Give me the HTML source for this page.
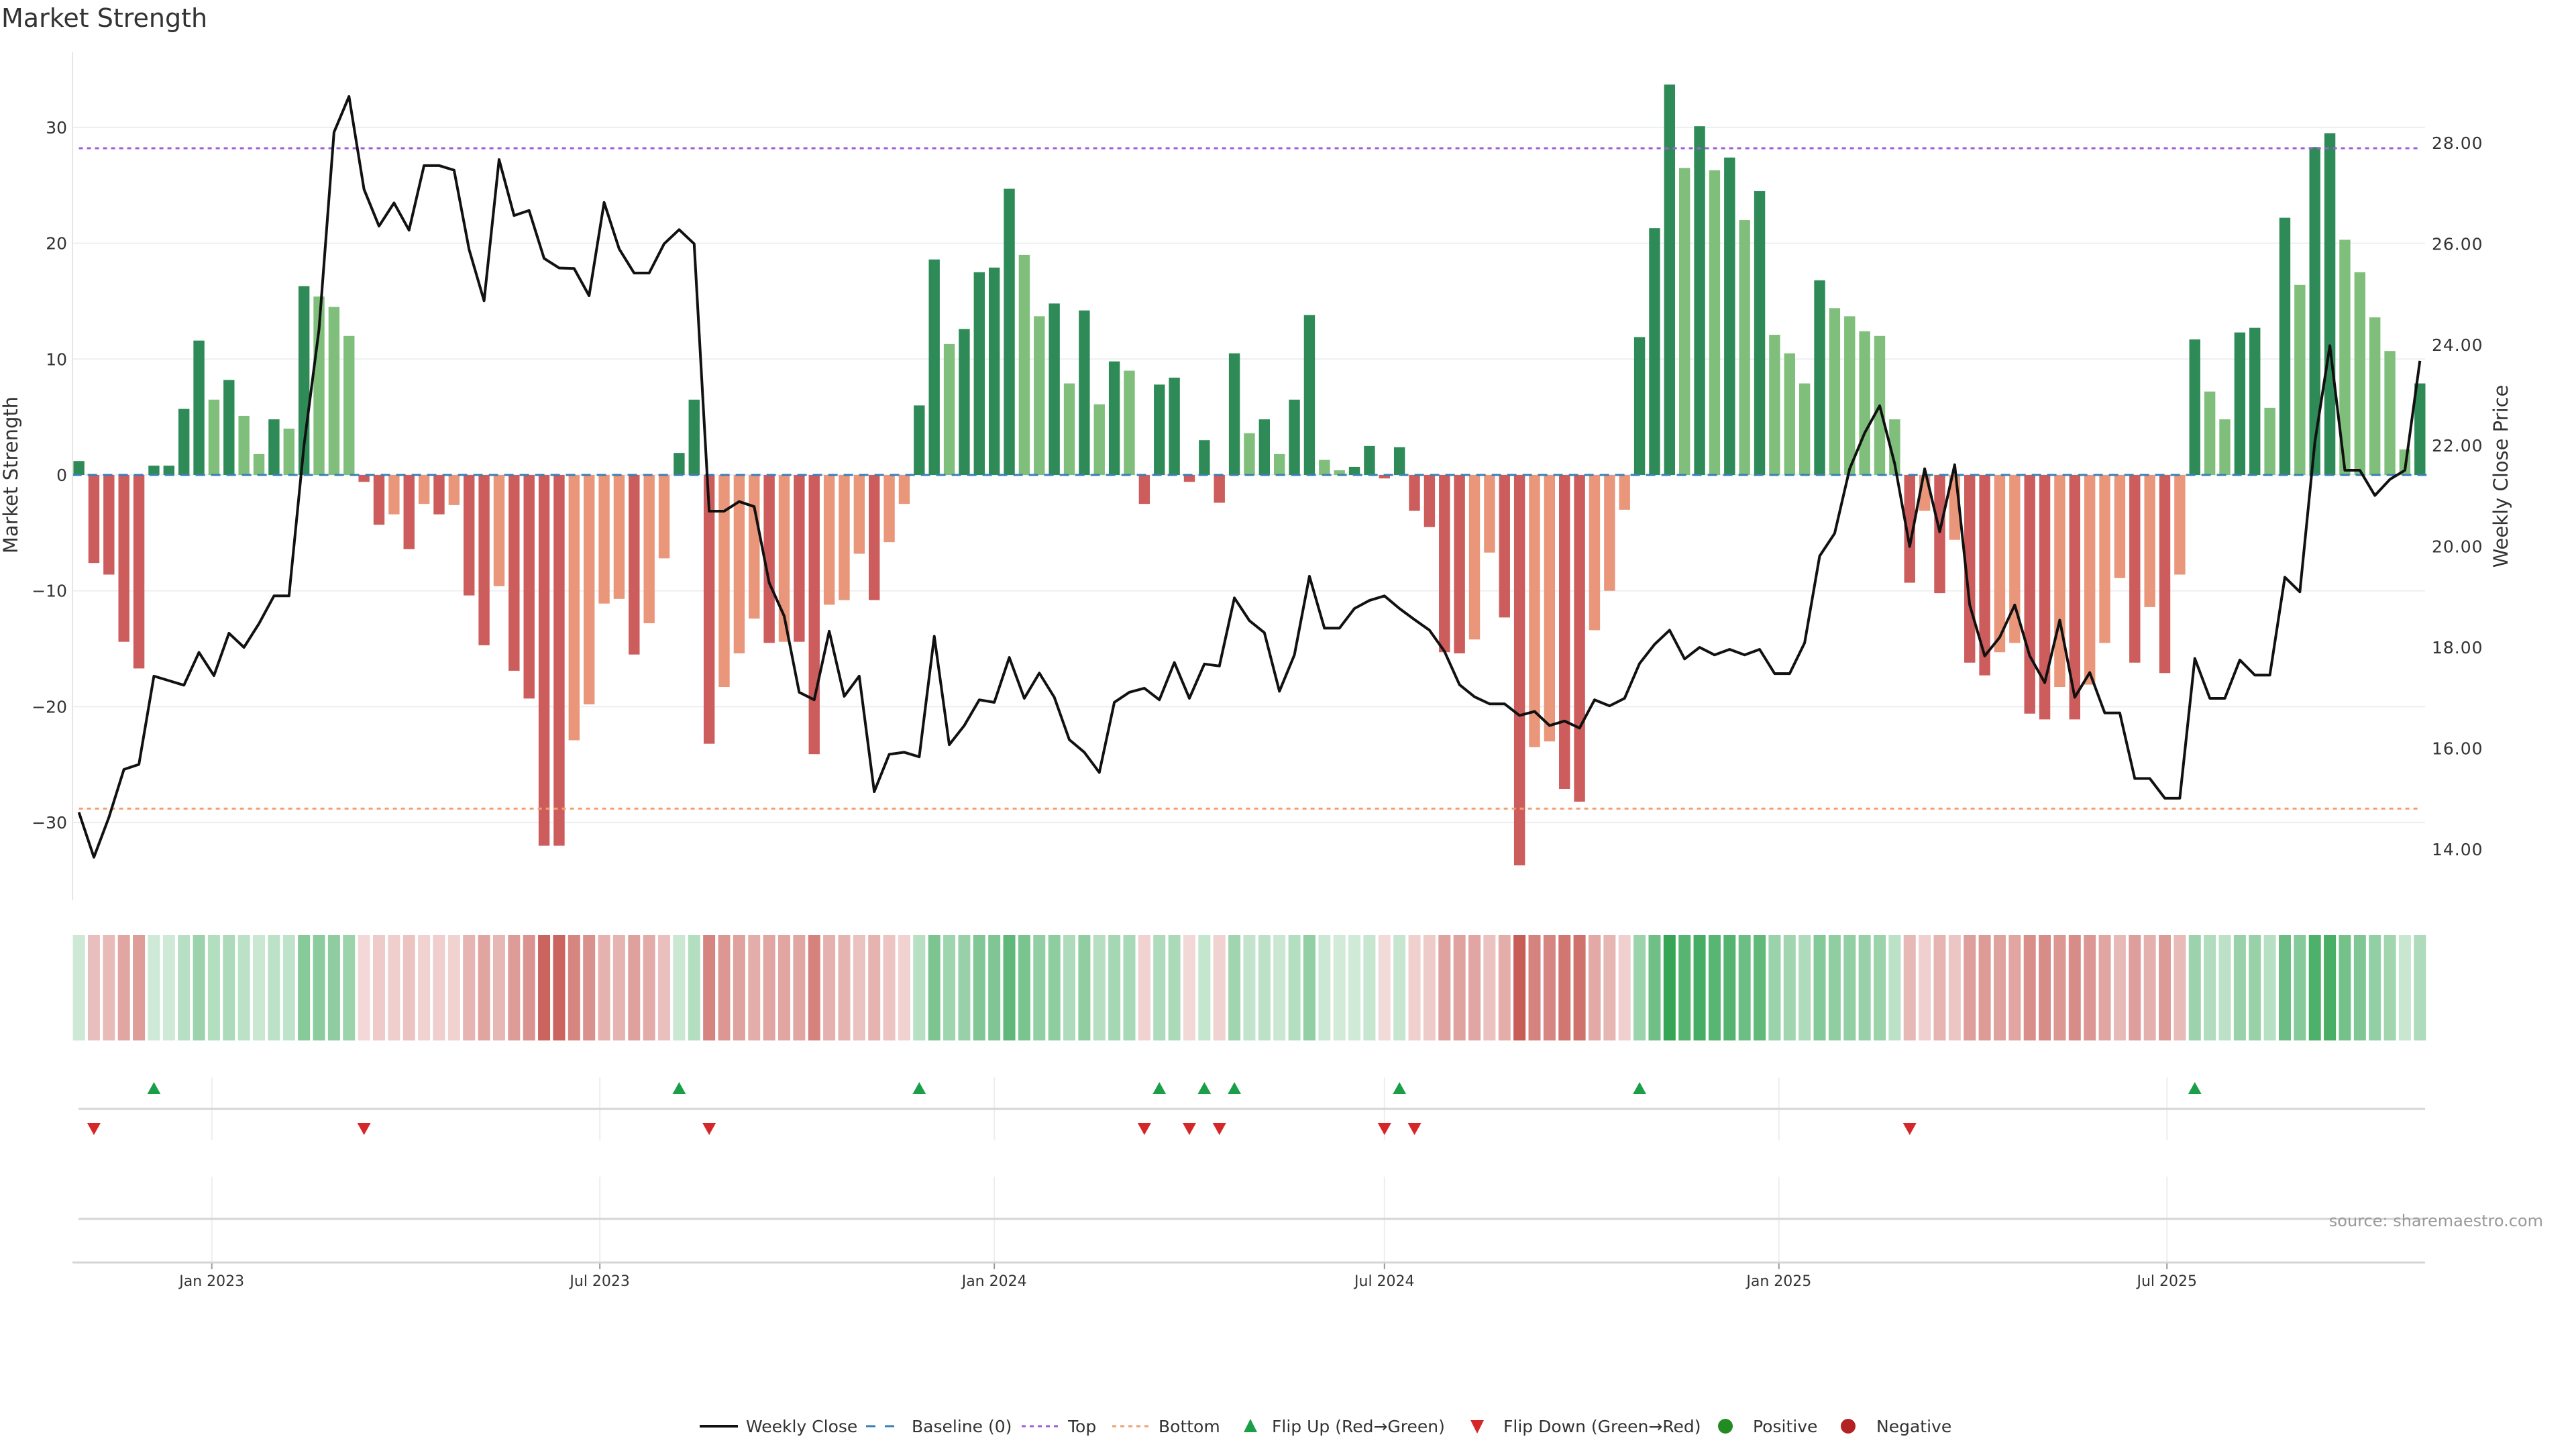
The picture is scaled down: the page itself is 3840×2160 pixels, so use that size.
<!DOCTYPE html>
<html><head><meta charset="utf-8"><title>Market Strength</title>
<style>
html,body{margin:0;padding:0;background:#fff;}
svg{display:block;font-family:"DejaVu Sans","Liberation Sans",sans-serif;}
</style></head>
<body>
<svg id="chart" width="3840" height="2160" viewBox="0 0 3840 2160" xmlns="http://www.w3.org/2000/svg">
<text x="2" y="40" font-size="38" fill="#333">Market Strength</text>
<g id="grid"></g><g id="bars"></g><g id="lines"></g><g id="axes"></g><g id="heat"></g><g id="flips"></g><g id="legend"></g>
</svg>
<script>
// ---- data ----
const startDate = "2022-10-31";
const strength = [1.2,-7.6,-8.6,-14.4,-16.7,0.8,0.8,5.7,11.6,6.5,8.2,5.1,1.8,4.8,4.0,16.3,15.4,14.5,12.0,
-0.6,-4.3,-3.4,-6.4,-2.5,-3.4,-2.6,-10.4,-14.7,-9.6,-16.9,-19.3,-32.0,-32.0,-22.9,-19.8,-11.1,-10.7,-15.5,-12.8,-7.2,1.9,6.5,
-23.2,-18.3,-15.4,-12.4,-14.5,-14.4,-14.4,-24.1,-11.2,-10.8,-6.8,-10.8,-5.8,-2.5,
6.0,18.6,11.3,12.6,17.5,17.9,24.7,19.0,13.7,14.8,7.9,14.2,6.1,9.8,9.0,-2.5,7.8,8.4,-0.6,3.0,-2.4,10.5,3.6,4.8,1.8,6.5,13.8,
1.3,0.4,0.7,2.5,-0.3,2.4,-3.1,-4.5,-15.3,-15.4,-14.2,-6.7,-12.3,-33.7,-23.5,-23.0,-27.1,-28.2,-13.4,-10.0,
-3.0,11.9,21.3,33.7,26.5,30.1,26.3,27.4,22.0,24.5,12.1,10.5,7.9,16.8,14.4,13.7,12.4,12.0,4.8,-9.3,
-3.1,-10.2,-5.6,-16.2,-17.3,-15.3,-14.5,-20.6,-21.1,-18.3,-21.1,-18.1,-14.5,-8.9,-16.2,-11.4,-17.1,-8.6,11.7,7.2,
4.8,12.3,12.7,5.8,22.2,16.4,28.3,29.5,20.3,17.5,13.6,10.7,2.2,7.9];
const prices = [14.73,13.84,14.63,15.58,15.68,17.43,17.34,17.25,17.90,17.44,
18.28,18.00,18.47,19.02,19.02,22.0,24.3,28.21,28.92,27.08,
26.35,26.81,26.27,27.55,27.55,27.46,25.89,24.87,27.67,26.56,
26.66,25.71,25.52,25.51,24.97,26.82,25.90,25.42,25.42,26.00,26.28,26.00,
20.70,20.70,20.89,20.79,19.28,18.62,17.11,16.96,18.32,17.03,
17.43,15.14,15.88,15.92,15.83,18.22,16.07,16.45,16.96,16.91,
17.80,16.99,17.49,17.01,16.17,15.92,15.52,16.91,17.11,17.19,
16.96,17.70,16.99,17.67,17.63,18.98,18.53,18.29,17.13,17.85,19.41,
18.38,18.38,18.77,18.93,19.02,18.77,18.55,18.34,17.92,17.26,
17.02,16.88,16.88,16.65,16.73,16.45,16.54,16.40,16.96,16.84,
16.99,17.68,18.06,18.34,17.77,18.00,17.85,17.96,17.85,17.96,
17.48,17.48,18.09,19.81,20.26,21.54,22.25,22.79,21.64,20.00,
21.54,20.29,21.62,18.84,17.83,18.20,18.84,17.83,17.30,18.54,
17.01,17.50,16.70,16.70,15.40,15.40,15.01,15.01,17.78,16.99,
16.99,17.75,17.45,17.45,19.39,19.10,22.07,23.98,21.51,21.51,
21.01,21.33,21.51,23.68];
const topLevel = 28.2;
const bottomLevel = -28.8;
const leftTicks = [30,20,10,0,-10,-20,-30];
const rightTicks = [28,26,24,22,20,18,16,14];
const dateTicks = ["2023-01-01","2023-07-01","2024-01-01","2024-07-01","2025-01-01","2025-07-01"];
const dateTickLabels = ["Jan 2023","Jul 2023","Jan 2024","Jul 2024","Jan 2025","Jul 2025"];

// ---- scales ----
const NS="http://www.w3.org/2000/svg";
const X0=117.6, PXW=22.37, L=108, R=3615;
const t0=Date.parse(startDate);
function xDate(d){return X0+(Date.parse(d)-t0)/86400000/7*PXW;}
function xIdx(i){return X0+i*PXW;}
function yS(v){return 708-v*17.27;}
function yP(p){return 213+(28-p)*75.2;}
function mk(tag,attrs,parent){const e=document.createElementNS(NS,tag);for(const k in attrs)e.setAttribute(k,attrs[k]);parent.appendChild(e);return e;}
const G=id=>document.getElementById(id);

// grid + axes
const grid=G('grid'), axes=G('axes');
leftTicks.forEach(v=>{
  const gl=mk('line',{x1:L,x2:R,y1:yS(v),y2:yS(v),stroke:'#eceff1','stroke-width':2},grid);
  
  
  const t=mk('text',{x:100,y:yS(v)+9,'font-size':25,'text-anchor':'end',fill:'#333'},axes);
  t.textContent=(v<0?'\u2212'+Math.abs(v):String(v));
  
  
});
rightTicks.forEach(p=>{
  const t=mk('text',{x:3625,y:yP(p)+9,'font-size':25,fill:'#333','letter-spacing':'1'},axes);
  t.textContent=p.toFixed(2);
  
  
});
const al=mk('line',{x1:L,x2:L,y1:78,y2:1342,stroke:'#e5e5e5','stroke-width':2},axes);


let yt=mk('text',{x:0,y:0,'font-size':29,fill:'#333','text-anchor':'middle',transform:'translate(26,708) rotate(-90)'},axes);
yt.textContent='Market Strength';


let yt2=mk('text',{x:0,y:0,'font-size':29,fill:'#333','text-anchor':'middle',transform:'translate(3738,710) rotate(-90)'},axes);
yt2.textContent='Weekly Close Price';



// bars
const bars=G('bars');
strength.forEach((v,i)=>{
  const prev=i>0?strength[i-1]:0;
  const strong=(Math.sign(v)!==Math.sign(prev))||Math.abs(v)>=Math.abs(prev);
  const col=v>=0?(strong?'#2e8b57':'#7fbf7b'):(strong?'#cd5c5c':'#e9967a');
  const y1=yS(Math.max(v,0)), y2=yS(Math.min(v,0));
  const b=mk('rect',{x:xIdx(i)-8.2,y:y1,width:16.4,height:Math.max(y2-y1,0.5),fill:col},bars);
  
  
});

// reference lines + price line
const lines=G('lines');
const bl=mk('line',{x1:X0-10,x2:xIdx(strength.length-1)+10,y1:yS(0),y2:yS(0),stroke:'#3a7fb5','stroke-width':3,'stroke-dasharray':'14,9'},lines);


const tl=mk('line',{x1:X0,x2:xIdx(strength.length-1),y1:yS(topLevel),y2:yS(topLevel),stroke:'#9b5fd8','stroke-width':3,'stroke-dasharray':'6,6'},lines);


const btl=mk('line',{x1:X0,x2:xIdx(strength.length-1),y1:yS(bottomLevel),y2:yS(bottomLevel),stroke:'#f0a070','stroke-width':3,'stroke-dasharray':'6,6'},lines);


const pl=mk('polyline',{points:prices.map((p,i)=>xIdx(i)+','+yP(p)).join(' '),fill:'none',stroke:'#111','stroke-width':4,'stroke-linejoin':'round'},lines);



// heatmap strip
const heat=G('heat');
strength.forEach((v,i)=>{
  const a=Math.min(1,0.22+0.78*Math.abs(v)/34);
  const c=v>=0?'rgba(52,165,85,'+a.toFixed(3)+')':'rgba(200,92,86,'+a.toFixed(3)+')';
  const r=mk('rect',{x:xIdx(i)-9,y:1394,width:18,height:157,fill:c},heat);
  
  
});

// flip panels
const flips=G('flips');
dateTicks.forEach((d,k)=>{
  const x=xDate(d);
  const g1=mk('line',{x1:x,x2:x,y1:1606,y2:1700,stroke:'#eee','stroke-width':2},flips);
  
  
  const g2=mk('line',{x1:x,x2:x,y1:1754,y2:1882,stroke:'#eee','stroke-width':2},flips);
  
  
  const tk=mk('line',{x1:x,x2:x,y1:1882,y2:1892,stroke:'#999','stroke-width':2},flips);
  
  
  const t=mk('text',{x:x,y:1917,'font-size':22,fill:'#333','text-anchor':'middle'},flips);
  t.textContent=dateTickLabels[k];
  
  
});
const fl=mk('line',{x1:117,x2:R,y1:1653,y2:1653,stroke:'#d5d5d5','stroke-width':3},flips);


const sl=mk('line',{x1:117,x2:R,y1:1817,y2:1817,stroke:'#d5d5d5','stroke-width':3},flips);


const xa=mk('line',{x1:L,x2:R,y1:1882,y2:1882,stroke:'#d5d5d5','stroke-width':3},flips);


strength.forEach((v,i)=>{
  if(i===0)return;
  const p=strength[i-1], x=xIdx(i);
  if(p<0&&v>=0){
    const u=mk('polygon',{points:(x-10)+',1631 '+(x+10)+',1631 '+x+',1613',fill:'#1a9e48'},flips);
    
    
  } else if(p>=0&&v<0){
    const d=mk('polygon',{points:(x-10)+',1674 '+(x+10)+',1674 '+x+',1692',fill:'#d62728'},flips);
    
    
  }
});
const src=mk('text',{x:3791,y:1828,'font-size':24,fill:'#999','text-anchor':'end'},flips);
src.textContent='source: sharemaestro.com';



// legend
const lg=G('legend'), LY=2126;
function lt(x,s){const t=mk('text',{x:x,y:LY+9,'font-size':25,fill:'#333'},lg);t.textContent=s;}
let e;
e=mk('line',{x1:1043,x2:1100,y1:LY,y2:LY,stroke:'#111','stroke-width':4},lg);


lt(1112,'Weekly Close');
e=mk('line',{x1:1291,x2:1345,y1:LY,y2:LY,stroke:'#3a7fb5','stroke-width':3,'stroke-dasharray':'14,14'},lg);


lt(1359,'Baseline (0)');
e=mk('line',{x1:1523,x2:1580,y1:LY,y2:LY,stroke:'#9b5fd8','stroke-width':3,'stroke-dasharray':'6,6'},lg);


lt(1592,'Top');
e=mk('line',{x1:1658,x2:1714,y1:LY,y2:LY,stroke:'#f0a070','stroke-width':3,'stroke-dasharray':'6,6'},lg);


lt(1727,'Bottom');
e=mk('polygon',{points:'1854,2135 1874,2135 1864,2115',fill:'#1a9e48'},lg);


lt(1896,'Flip Up (Red\u2192Green)');
e=mk('polygon',{points:'2192,2117 2212,2117 2202,2137',fill:'#d62728'},lg);


lt(2241,'Flip Down (Green\u2192Red)');
e=mk('circle',{cx:2572,cy:LY,r:11,fill:'#228b22'},lg);


lt(2613,'Positive');
e=mk('circle',{cx:2755,cy:LY,r:11,fill:'#b22222'},lg);


lt(2797,'Negative');
</script>
</body></html>
